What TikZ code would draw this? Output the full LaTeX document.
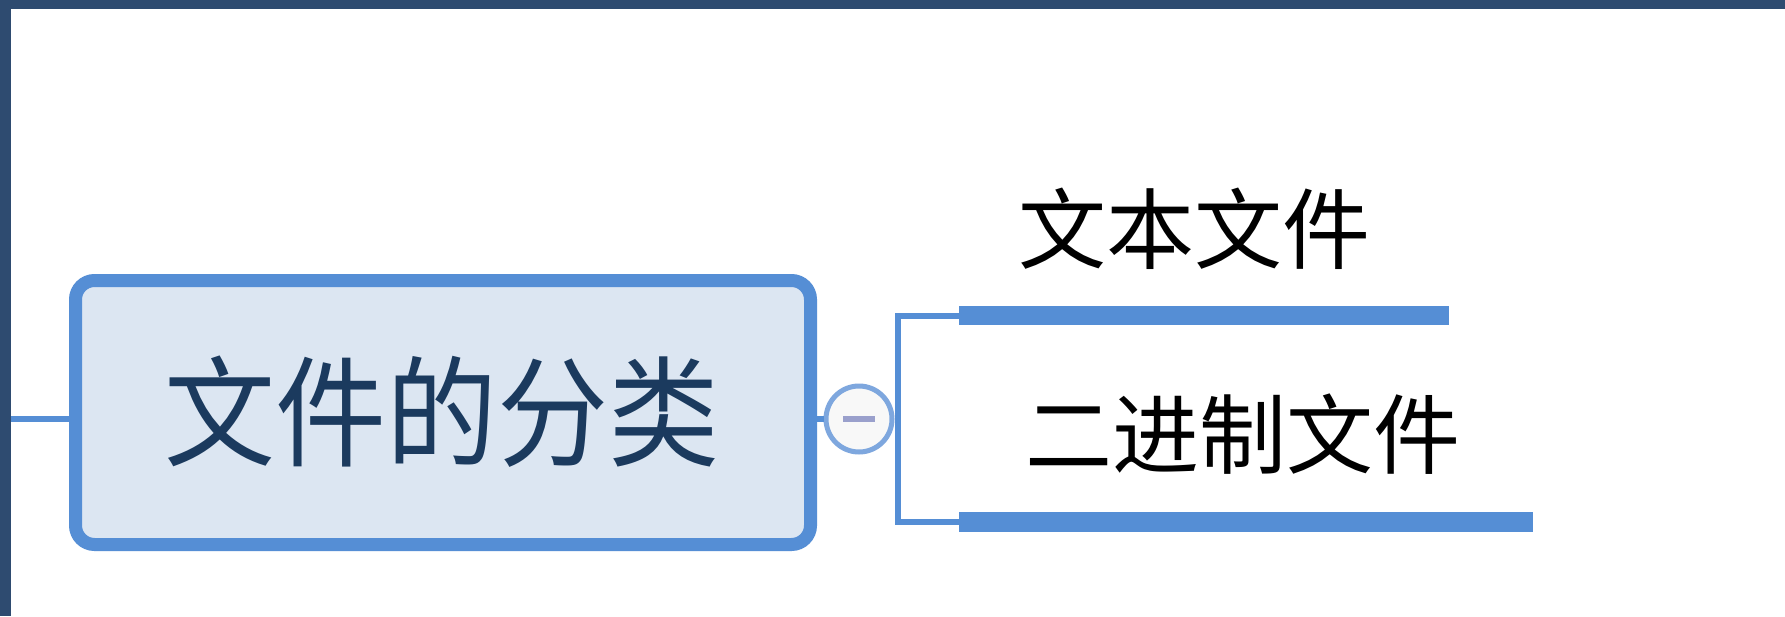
\documentclass[tikz,border=0pt]{standalone}
\usepackage{fontspec}
\newfontfamily\cjk{Noto Sans CJK SC}
\definecolor{bg}{HTML}{2E4B70}
\definecolor{lnblue}{HTML}{558ED5}
\definecolor{boxfill}{HTML}{DCE6F2}
\definecolor{maintext}{HTML}{1B3A5E}
\definecolor{circborder}{HTML}{7EA7DE}
\definecolor{circfill}{HTML}{F8F8F8}
\definecolor{minuscol}{HTML}{9AA0CC}
\tikzset{
  mainbox/.style={draw=lnblue, fill=boxfill, line width=13pt, rounded corners=19pt,
    minimum width=735pt, minimum height=264pt, inner sep=0pt},
  conn/.style={draw=lnblue, line width=6pt},
  togglecirc/.style={circle, draw=circborder, fill=circfill, line width=5pt, minimum size=66pt, inner sep=0pt},
  barnode/.style={fill=lnblue, inner sep=0pt},
  childtext/.style={inner sep=0pt, text=black},
}
\begin{document}
\begin{tikzpicture}[x=1pt,y=-1pt]
\useasboundingbox (0,0) rectangle (1785,616);
\fill[bg] (0,0) rectangle (1785,616);
\fill[white] (11,9) rectangle (1785,616);
% main box
\node[mainbox] (main) at (443,412.5) {};
\node[inner sep=0pt, text=maintext] (maintxt) at (441.5,412) {\scalebox{0.925}[1]{\fontsize{120}{120}\selectfont\cjk 文件的分类}};
% left incoming line
\coordinate (lstart) at (11,419);
\draw[conn] (lstart) -- (lstart -| main.west);
% toggle circle
\node[togglecirc] (circ) at (859,419) {};
\draw[minuscol, line width=6pt] ([xshift=-16pt]circ.center) -- ([xshift=16pt]circ.center);
\draw[conn] (circ.west -| main.east) -- (circ.west);
% bars
\node[barnode, minimum width=490pt, minimum height=19pt] (bar1) at (1204,315.5) {};
\node[barnode, minimum width=574pt, minimum height=20pt] (bar2) at (1246,522) {};
\coordinate (elbowtop) at (898,315.5);
\coordinate (elbowbot) at (898,522);
\draw[conn] (circ.east) -- (circ.east -| elbowtop);
\draw[conn] (bar1.west) -- (elbowtop) -- (elbowbot) -- (bar2.west);
% child texts
\node[childtext] (t1) at (1194,228.5) {\fontsize{88}{88}\selectfont\cjk 文本文件};
\node[childtext] (t2) at (1243,434.5) {\fontsize{87}{87}\selectfont\cjk 二进制文件};
\end{tikzpicture}
\end{document}
